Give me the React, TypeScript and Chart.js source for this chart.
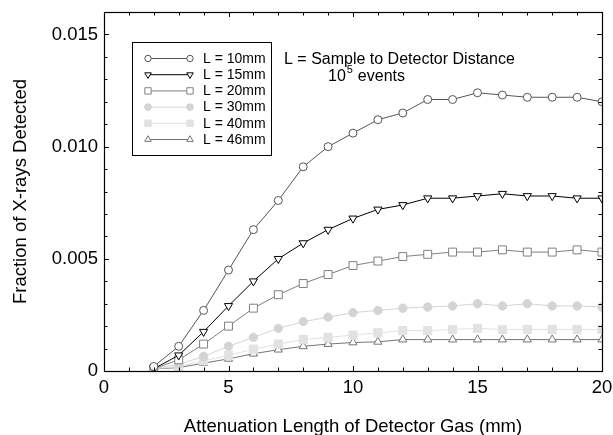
import React, { useEffect, useRef } from "react";
import { Chart, registerables } from "chart.js";
import { drawPoint } from "chart.js/helpers";

Chart.register(...registerables);

// ---------- data ----------
const xValues = [2, 3, 4, 5, 6, 7, 8, 9, 10, 11, 12, 13, 14, 15, 16, 17, 18, 19, 20];
const seriesLabels = ["L = 10mm", "L = 15mm", "L = 20mm", "L = 30mm", "L = 40mm", "L = 46mm"];
const L10 = [0.0002, 0.0011, 0.0027, 0.0045, 0.0063, 0.0076, 0.0091, 0.0100, 0.0106, 0.0112, 0.0115, 0.0121, 0.0121, 0.0124, 0.0123, 0.0122, 0.0122, 0.0122, 0.0120];
const L15 = [0.0001, 0.0007, 0.00175, 0.0029, 0.0040, 0.0050, 0.0057, 0.0063, 0.0068, 0.0072, 0.0074, 0.0077, 0.0077, 0.0078, 0.0079, 0.0078, 0.0078, 0.0077, 0.0077];
const L20 = [0.0001, 0.0005, 0.0012, 0.0020, 0.0028, 0.0034, 0.0039, 0.0043, 0.0047, 0.0049, 0.0051, 0.0052, 0.0053, 0.0053, 0.0054, 0.0053, 0.0053, 0.0054, 0.0053];
const L30 = [0.0001, 0.0003, 0.00065, 0.0011, 0.0015, 0.0019, 0.0022, 0.0024, 0.0026, 0.0027, 0.0028, 0.00285, 0.0029, 0.0030, 0.0029, 0.0030, 0.0029, 0.0029, 0.00285];
const L40 = [0.0001, 0.0002, 0.00045, 0.0007, 0.00097, 0.0012, 0.0014, 0.0015, 0.0016, 0.0017, 0.0018, 0.0018, 0.00185, 0.0019, 0.00185, 0.00185, 0.00185, 0.00185, 0.00185];
const L46 = [0.0001, 0.00015, 0.00035, 0.00054, 0.00077, 0.00095, 0.0011, 0.0012, 0.00127, 0.0013, 0.0014, 0.0014, 0.0014, 0.0014, 0.0014, 0.0014, 0.0014, 0.0014, 0.0014];
const seriesValues = [L10, L15, L20, L30, L40, L46];

const xTickValues = [0, 5, 10, 15, 20];
const xTickLabels = ["0", "5", "10", "15", "20"];
const yTickValues = [0, 0.005, 0.01, 0.015];
const yTickLabels = ["0", "0.005", "0.010", "0.015"];
const xTitle = "Attenuation Length of Detector Gas (mm)";
const yTitle = "Fraction of X-rays Detected";
const noteLine1 = "L = Sample to Detector Distance";
const noteBase = "10";
const noteExp = "5";
const noteRest = " events";

// ---------- styles ----------
const FONT = "'Liberation Sans', Arial, Helvetica, sans-serif";
const styles = [
  { line: "#555555", border: "#555555", fill: "#ffffff", pointStyle: "circle", radius: 4, rotation: 0 },
  { line: "#000000", border: "#000000", fill: "#ffffff", pointStyle: "triangle", radius: 4.7, rotation: 180 },
  { line: "#808080", border: "#808080", fill: "#ffffff", pointStyle: "rect", radius: 5.6, rotation: 0 },
  { line: "#d4d4d4", border: "#d4d4d4", fill: "#d4d4d4", pointStyle: "circle", radius: 4.2, rotation: 0 },
  { line: "#e2e2e2", border: "#e2e2e2", fill: "#e2e2e2", pointStyle: "rect", radius: 5.8, rotation: 0 },
  { line: "#747474", border: "#747474", fill: "#ffffff", pointStyle: "triangle", radius: 4.7, rotation: 0 },
];

const framePlugin = {
  id: "frameTicks",
  afterDraw(chart: any) {
    const { ctx, chartArea: a, scales } = chart;
    const xs = scales.x;
    const ys = scales.y;
    ctx.save();
    ctx.strokeStyle = "#000";
    ctx.lineWidth = 1;
    const seg = (x1: number, y1: number, x2: number, y2: number) => {
      ctx.beginPath();
      ctx.moveTo(x1, y1);
      ctx.lineTo(x2, y2);
      ctx.stroke();
    };
    for (let v = xs.min; v <= xs.max + 1e-9; v += 1) {
      const px = Math.round(xs.getPixelForValue(v)) + 0.5;
      const len = Math.abs(v % 5) < 1e-9 ? 5 : 3.5;
      seg(px, a.bottom, px, a.bottom - len);
      seg(px, a.top, px, a.top + len);
    }
    for (let k = 0; k <= 16; k++) {
      const v = k * 0.001;
      const py = Math.round(ys.getPixelForValue(v)) + 0.5;
      const len = k % 5 === 0 ? 5 : 3.5;
      seg(a.left, py, a.left + len, py);
      seg(a.right, py, a.right - len, py);
    }
    ctx.lineWidth = 1.2;
    ctx.strokeRect(Math.round(a.left) + 0.5, Math.round(a.top) + 0.5, Math.round(a.right - a.left), Math.round(a.bottom - a.top));

    // legend box
    const bx = 132.5, by = 42.5, bw = 139, bh = 113;
    ctx.lineWidth = 1;
    ctx.fillStyle = "#fff";
    ctx.fillRect(bx, by, bw, bh);
    ctx.strokeStyle = "#000";
    ctx.strokeRect(bx, by, bw, bh);
    ctx.font = `14px ${FONT}`;
    ctx.textBaseline = "middle";
    ctx.textAlign = "left";
    seriesLabels.forEach((lab, i) => {
      const st = styles[i];
      const yy = 58.5 + i * 16.2;
      ctx.strokeStyle = st.line;
      ctx.lineWidth = 1;
      seg(148, yy, 190, yy);
      ctx.strokeStyle = st.border;
      ctx.fillStyle = st.fill;
      const opts = { pointStyle: st.pointStyle, rotation: st.rotation, radius: st.radius * 0.8, borderWidth: 1 };
      drawPoint(ctx, opts as any, 148, yy);
      drawPoint(ctx, opts as any, 190, yy);
      ctx.fillStyle = "#000";
      ctx.fillText(lab, 203, yy + 0.5);
    });

    // annotation
    ctx.fillStyle = "#000";
    ctx.font = `16px ${FONT}`;
    ctx.fillText(noteLine1, 284, 59.5);
    const wBase = ctx.measureText(noteBase).width;
    const sx = 328;
    ctx.fillText(noteBase, sx, 77);
    ctx.font = `11px ${FONT}`;
    const wExp = ctx.measureText(noteExp).width;
    ctx.fillText(noteExp, sx + wBase + 1, 70);
    ctx.font = `16px ${FONT}`;
    ctx.fillText(noteRest, sx + wBase + wExp + 1.5, 77);
    ctx.restore();
  },
};

export default function App() {
  const canvasRef = useRef<HTMLCanvasElement | null>(null);

  useEffect(() => {
    const canvas = canvasRef.current;
    if (!canvas) return;
    Chart.defaults.font.family = FONT;
    Chart.defaults.color = "#000";

    const datasets = seriesValues.map((vals, i) => {
      const st = styles[i];
      return {
        label: seriesLabels[i],
        data: xValues.map((x, j) => ({ x, y: vals[j] })),
        borderColor: st.line,
        borderWidth: 1,
        backgroundColor: st.fill,
        pointStyle: st.pointStyle,
        pointRotation: st.rotation,
        pointRadius: st.radius,
        pointBorderColor: st.border,
        pointBackgroundColor: st.fill,
        pointBorderWidth: 1,
        tension: 0,
        fill: false,
      };
    });

    const chart = new Chart(canvas, {
      type: "line",
      data: { datasets: datasets as any },
      options: {
        animation: false,
        responsive: true,
        maintainAspectRatio: false,
        layout: { padding: { top: 12, right: 11, left: 0, bottom: 0 } },
        plugins: { legend: { display: false }, tooltip: { enabled: false } },
        scales: {
          x: {
            type: "linear",
            min: 0,
            max: 20,
            grid: { display: false, drawTicks: false },
            border: { display: false },
            afterBuildTicks: (s: any) => {
              s.ticks = xTickValues.map((v) => ({ value: v }));
            },
            afterFit: (s: any) => {
              s.height = 64;
              s.paddingLeft = 0;
              s.paddingRight = 0;
            },
            ticks: {
              padding: 6,
              maxRotation: 0,
              font: { size: 18.5 },
              color: "#000",
              callback: (_v: any, i: number) => xTickLabels[i],
            },
            title: {
              display: true,
              text: xTitle,
              font: { size: 18.5 },
              color: "#000",
              padding: { top: 0, bottom: -3 },
            },
          },
          y: {
            type: "linear",
            min: 0,
            max: 0.016,
            grid: { display: false, drawTicks: false },
            border: { display: false },
            afterBuildTicks: (s: any) => {
              s.ticks = yTickValues.map((v) => ({ value: v }));
            },
            afterFit: (s: any) => {
              s.width = 104;
              s.paddingTop = 0;
              s.paddingBottom = 0;
            },
            ticks: {
              padding: 6,
              font: { size: 18.5 },
              color: "#000",
              callback: (_v: any, i: number) => yTickLabels[i],
            },
            title: {
              display: true,
              text: yTitle,
              font: { size: 18.5 },
              color: "#000",
              padding: { top: 10, bottom: 0 },
            },
          },
        },
      },
      plugins: [framePlugin],
    });
    return () => chart.destroy();
  }, []);

  return (
    <div style={{ position: "fixed", left: 0, top: 0, width: 613, height: 435, background: "#fff" }}>
      <canvas ref={canvasRef} />
    </div>
  );
}
